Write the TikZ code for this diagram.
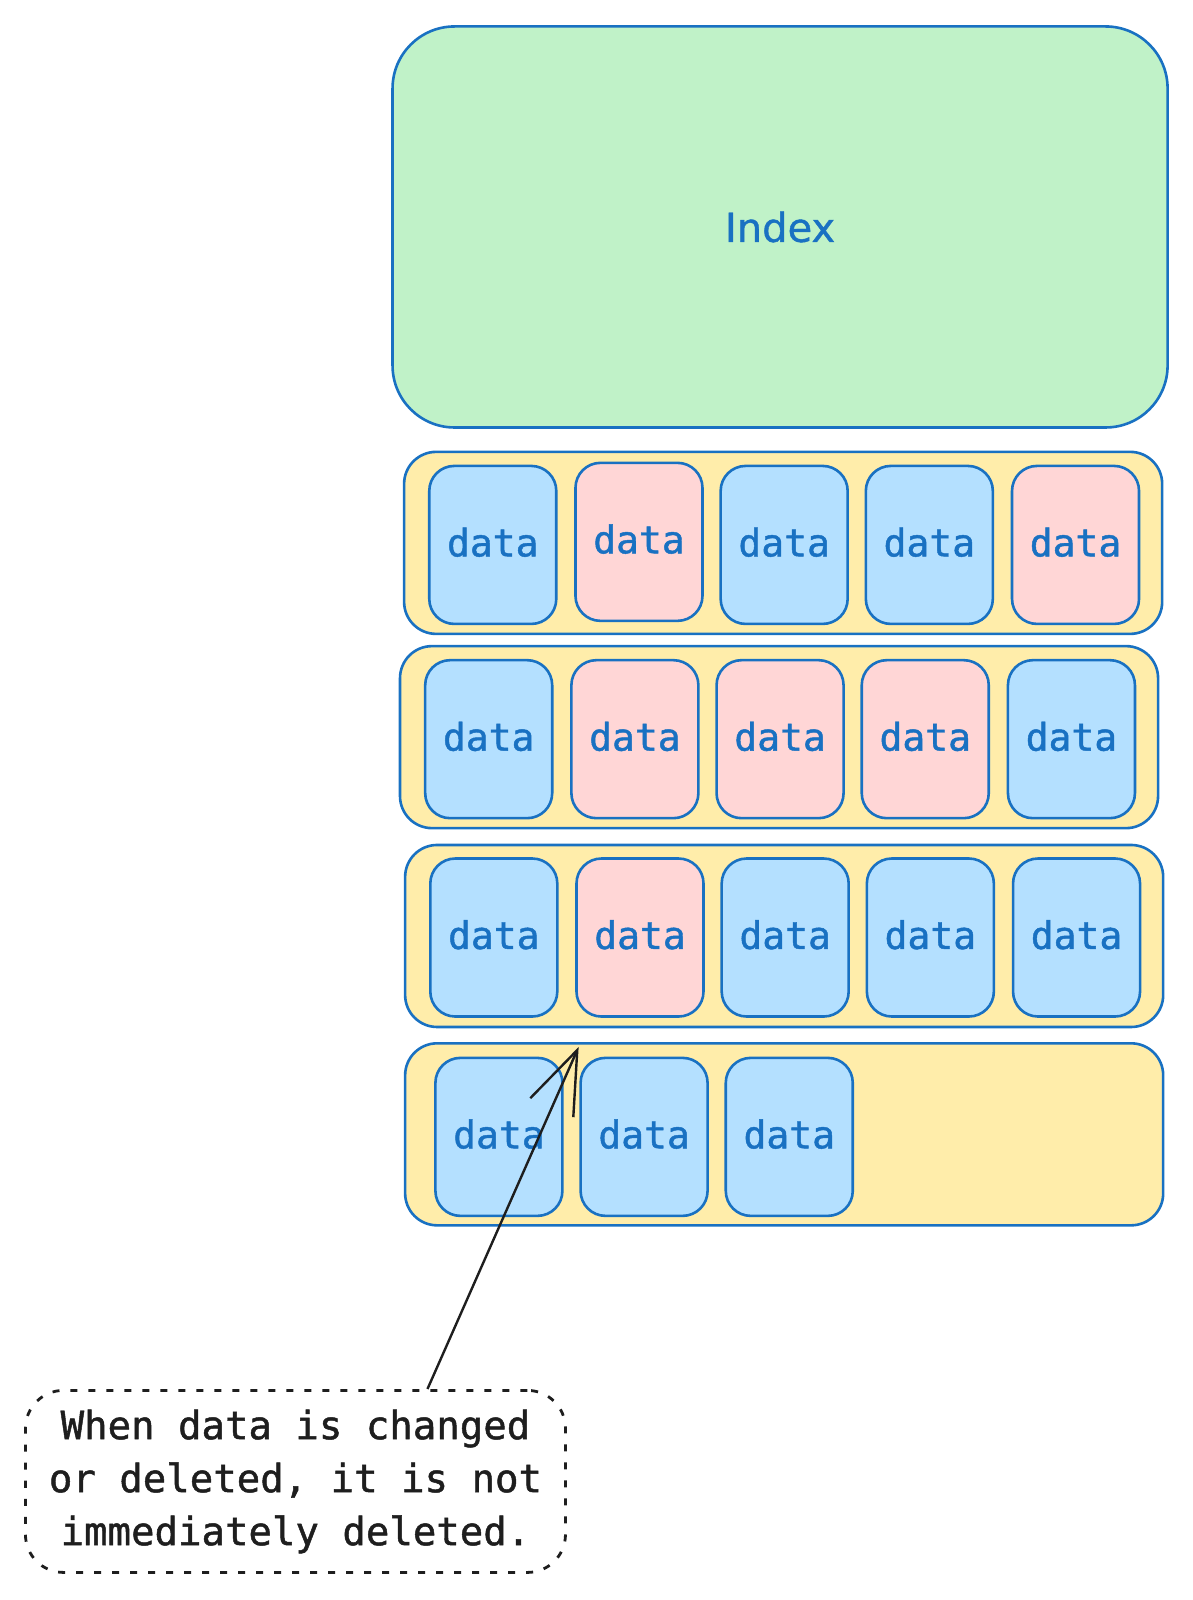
\documentclass[tikz,border=0pt]{standalone}
\usepackage{fontspec}
\setmainfont[AutoFakeBold=1.2]{DejaVu Sans Mono}
\newfontfamily\indexfont[AutoFakeBold=1.0]{DejaVu Sans}
\usetikzlibrary{arrows.meta, calc}

\definecolor{strokeblue}{RGB}{25,113,194}
\definecolor{notegray}{RGB}{30,30,30}
\definecolor{idxgreen}{RGB}{192,242,200}
\definecolor{rowyellow}{RGB}{255,237,170}
\definecolor{cellblue}{RGB}{180,224,255}
\definecolor{cellred}{RGB}{255,214,214}

\tikzset{
  indexbox/.style={draw=strokeblue, line width=2.6pt, fill=idxgreen, rounded corners=62pt,
    minimum width=775pt, minimum height=401pt, text=strokeblue, font=\indexfont\bfseries\fontsize{40}{48}\selectfont},
  rowbox/.style={draw=strokeblue, line width=2.6pt, fill=rowyellow, rounded corners=32pt,
    minimum width=758pt, minimum height=182pt},
  cell/.style={draw=strokeblue, line width=2.6pt, rounded corners=25pt, inner sep=0pt,
    minimum width=127pt, minimum height=158pt, text depth=6pt, text=strokeblue,
    font=\bfseries\fontsize{38}{44}\selectfont},
  live/.style={cell, fill=cellblue},
  dead/.style={cell, fill=cellred},
  notebox/.style={draw=notegray, line width=2.8pt, dash pattern=on 7pt off 11pt, rounded corners=38pt,
    minimum width=540pt, minimum height=182pt, align=center, text=notegray,
    font=\bfseries\fontsize{39}{53}\selectfont},
  callout/.style={draw=notegray, line width=2.4pt, -{Straight Barb[length=63pt, width=47pt, line width=2.4pt]}}
}

\begin{document}
\begin{tikzpicture}[x=1.0223pt, y=-1.0223pt]
		\useasboundingbox (0,0) rectangle (1166,1565);
		% index on top
		\node[indexbox] (index) at (763,222) {Index};
		% rows of data
		\node[rowbox] (row1) at (766,531) {};
		\node[rowbox] (row2) at (762,721) {};
		\node[rowbox] (row3) at (767,915.5) {};
		\node[rowbox] (row4) at (767,1109.5) {};
		\node[live] (d11) at (482,533) {data};
		\node[dead] (d12) at (625,530) {data};
		\node[live] (d13) at (767,533) {data};
		\node[live] (d14) at (909,533) {data};
		\node[dead] (d15) at (1052,533) {data};
		\node[live] (d21) at (478,723) {data};
		\node[dead] (d22) at (621,723) {data};
		\node[dead] (d23) at (763,723) {data};
		\node[dead] (d24) at (905,723) {data};
		\node[live] (d25) at (1048,723) {data};
		\node[live] (d31) at (483,917) {data};
		\node[dead] (d32) at (626,917) {data};
		\node[live] (d33) at (768,917) {data};
		\node[live] (d34) at (910,917) {data};
		\node[live] (d35) at (1053,917) {data};
		\node[live] (d41) at (488,1112) {data};
		\node[live] (d42) at (630,1112) {data};
		\node[live] (d43) at (772,1112) {data};
		% note and arrow
		\node[notebox] (note) at (289,1449) {When data is changed\\or deleted, it is not\\immediately deleted.};
		\coordinate (tip) at (566,1024);
		\draw[callout] ([xshift=132pt]note.north) -- (tip);
	\end{tikzpicture}
\end{document}
